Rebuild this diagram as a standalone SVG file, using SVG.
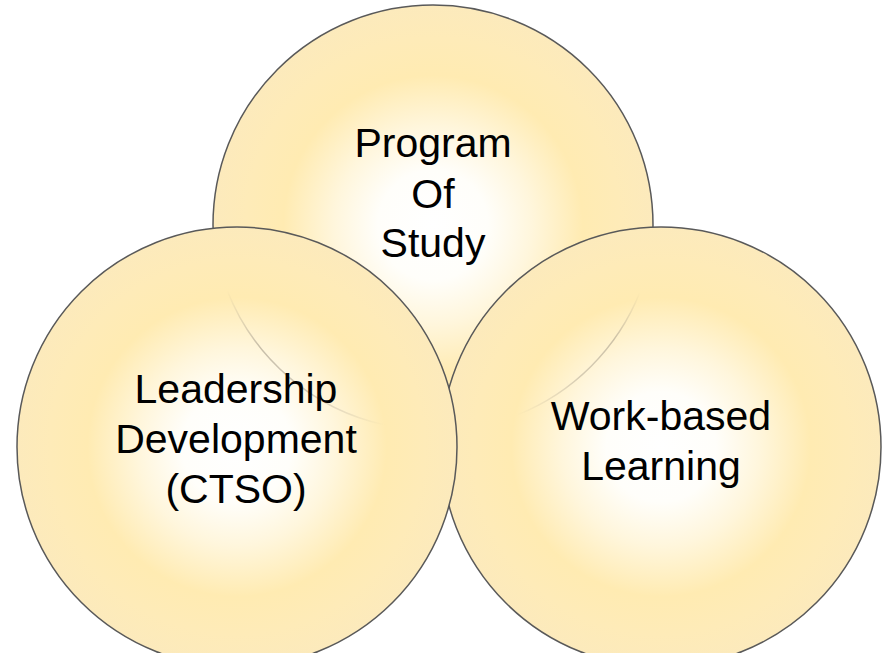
<svg xmlns="http://www.w3.org/2000/svg" width="883" height="653" viewBox="0 0 883 653">
  <defs>
    <radialGradient id="fillGrad" cx="50%" cy="50%" r="50%">
      <stop offset="0" stop-color="#FFFFFF"/>
      <stop offset="0.25" stop-color="#FFFEFA"/>
      <stop offset="0.45" stop-color="#FFF6DC"/>
      <stop offset="0.68" stop-color="#FFEBB2"/>
      <stop offset="0.85" stop-color="#FEEBB8"/>
      <stop offset="1" stop-color="#FCEABC"/>
    </radialGradient>
    <linearGradient id="arcL" gradientUnits="userSpaceOnUse" x1="227" y1="290" x2="385" y2="425">
      <stop offset="0" stop-color="#9a9080" stop-opacity="0"/>
      <stop offset="0.3" stop-color="#9a9080" stop-opacity="0.55"/>
      <stop offset="0.6" stop-color="#9a9080" stop-opacity="0.45"/>
      <stop offset="1" stop-color="#9a9080" stop-opacity="0"/>
    </linearGradient>
    <linearGradient id="arcR" gradientUnits="userSpaceOnUse" x1="640" y1="292" x2="517" y2="415">
      <stop offset="0" stop-color="#9a9080" stop-opacity="0"/>
      <stop offset="0.3" stop-color="#9a9080" stop-opacity="0.5"/>
      <stop offset="0.6" stop-color="#9a9080" stop-opacity="0.4"/>
      <stop offset="1" stop-color="#9a9080" stop-opacity="0"/>
    </linearGradient>
  </defs>
  <style>
    .circ { fill: url(#fillGrad); stroke: #595959; stroke-width: 1.5; }
    .lbl { font-family: "Liberation Sans", Arial, sans-serif; font-size: 41px; fill: #000000; text-anchor: middle; }
  </style>
  <rect x="0" y="0" width="883" height="653" fill="#FFFFFF"/>
  <g id="program-of-study">
    <circle class="circ" cx="433" cy="225" r="220"/>
    <text class="lbl" x="433" y="157">Program</text>
    <text class="lbl" x="433" y="208">Of</text>
    <text class="lbl" x="433" y="257">Study</text>
  </g>
  <g id="work-based-learning">
    <circle class="circ" cx="661" cy="447" r="220"/>
    <path d="M640,292 A220,220 0 0 1 517,415" fill="none" stroke="url(#arcR)" stroke-width="1.5"/>
    <text class="lbl" x="661" y="430">Work-based</text>
    <text class="lbl" x="661" y="480">Learning</text>
  </g>
  <g id="leadership-development">
    <circle class="circ" cx="237" cy="447" r="220"/>
    <path d="M227,290 A220,220 0 0 0 385,425" fill="none" stroke="url(#arcL)" stroke-width="1.5"/>
    <text class="lbl" x="236" y="403">Leadership</text>
    <text class="lbl" x="236" y="453">Development</text>
    <text class="lbl" x="236" y="503">(CTSO)</text>
  </g>
  <g id="connectors"></g>
</svg>
